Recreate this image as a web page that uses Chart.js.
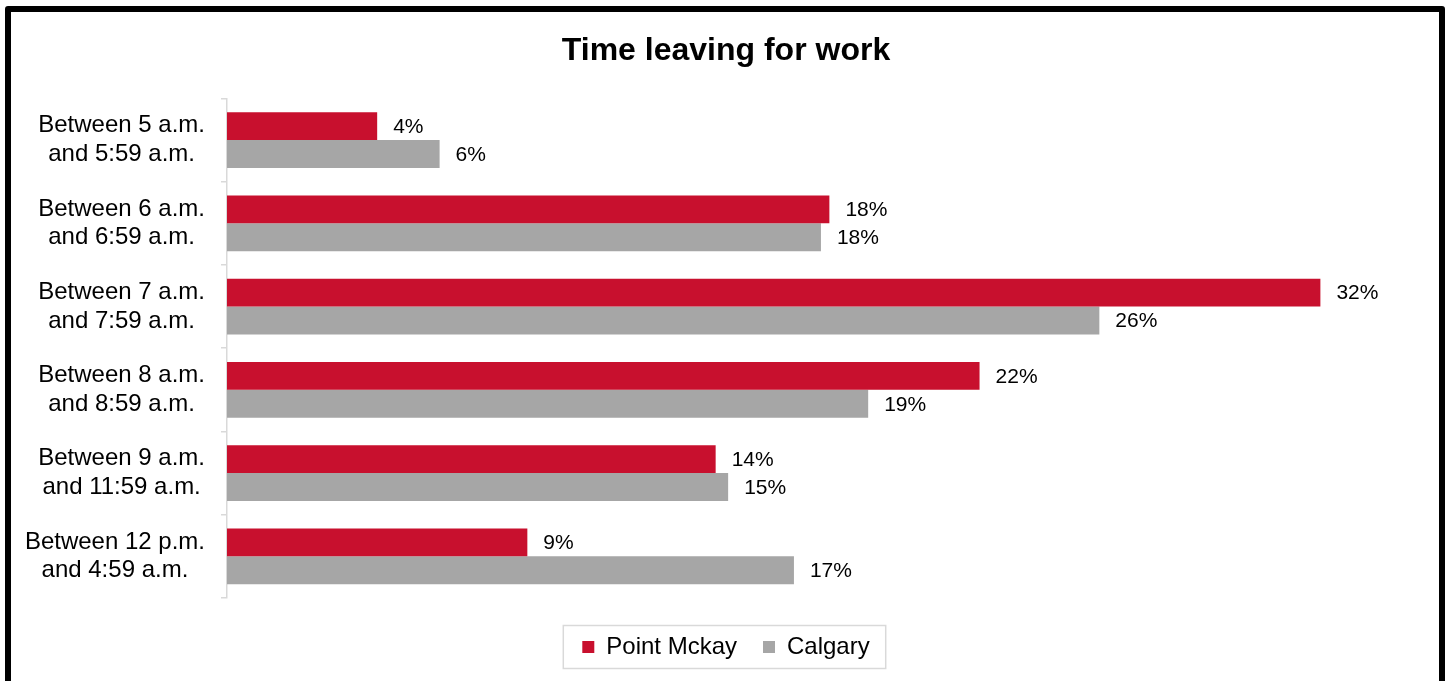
<!DOCTYPE html>
<html>
<head>
<meta charset="utf-8">
<script src="https://cdn.jsdelivr.net/npm/chart.js@4"></script>
<style>
    html, body { margin: 0; padding: 0; background: #fff; overflow: hidden; }
    #wrap { position: absolute; left: 0; top: 0; width: 1452px; height: 681px; }
    #frame {
        position: absolute; left: 5px; top: 6px; width: 1440px; height: 700px;
        box-sizing: border-box; border: 6px solid #000; border-radius: 3px;
        pointer-events: none;
    }
</style>
</head>
<body>
<div id="wrap"><canvas id="workChart"></canvas></div>
<div id="frame"></div>
<script>
// Chart data
const categories = [
    ['Between 5 a.m.', 'and 5:59 a.m.'],
    ['Between 6 a.m.', 'and 6:59 a.m.'],
    ['Between 7 a.m.', 'and 7:59 a.m.'],
    ['Between 8 a.m.', 'and 8:59 a.m.'],
    ['Between 9 a.m.', 'and 11:59 a.m.'],
    ['Between 12 p.m.', 'and 4:59 a.m.']
];
const pointMckay = [4.45, 17.85, 32.4, 22.3, 14.48, 8.9];
const calgary = [6.3, 17.6, 25.85, 19.0, 14.85, 16.8];

const FONT = "'Liberation Sans', Arial, sans-serif";

// Value labels at the end of each bar
const barLabels = {
    id: 'barLabels',
    afterDatasetsDraw(chart) {
        const ctx = chart.ctx;
        ctx.save();
        ctx.font = '21px ' + FONT;
        ctx.fillStyle = '#000';
        ctx.textAlign = 'left';
        ctx.textBaseline = 'middle';
        chart.data.datasets.forEach((ds, i) => {
            chart.getDatasetMeta(i).data.forEach((bar, j) => {
                ctx.fillText(Math.round(ds.data[j]) + '%', bar.x + 16, bar.y + 1);
            });
        });
        ctx.restore();
    }
};

// Right-align each two-line category label block, lines centred inside it
const labelBlocks = {
    id: 'labelBlocks',
    beforeDraw(chart) {
        const s = chart.scales.y;
        if (!s || typeof s.getLabelItems !== 'function') return;
        const ctx = chart.ctx;
        const rightEdge = s.right - 6 - 16;
        ctx.save();
        ctx.font = '24px ' + FONT;
        s.getLabelItems().forEach(item => {
            const lines = Array.isArray(item.label) ? item.label : [item.label];
            const w = Math.max(...lines.map(l => ctx.measureText(l).width));
            item.options.translation[0] = rightEdge - w / 2;
        });
        ctx.restore();
    }
};

// Light grey box round the legend items
const legendBox = {
    id: 'legendBox',
    afterDraw(chart) {
        const boxes = chart.legend.legendHitBoxes;
        if (!boxes || !boxes.length) return;
        const first = boxes[0];
        const last = boxes[boxes.length - 1];
        const cy = first.top + first.height / 2;
        const x0 = first.left - 19;
        const x1 = last.left + last.width + 16;
        const ctx = chart.ctx;
        ctx.save();
        ctx.strokeStyle = '#d9d9d9';
        ctx.lineWidth = 1.5;
        ctx.strokeRect(x0, cy - 21.5, x1 - x0, 43);
        ctx.restore();
    }
};

const ctx = document.getElementById('workChart').getContext('2d');
new Chart(ctx, {
    type: 'bar',
    data: {
        labels: categories,
        datasets: [
            {
                label: 'Point Mckay',
                data: pointMckay,
                backgroundColor: '#c8102e',
                categoryPercentage: 0.67,
                barPercentage: 1.0
            },
            {
                label: 'Calgary',
                data: calgary,
                backgroundColor: '#a6a6a6',
                categoryPercentage: 0.67,
                barPercentage: 1.0
            }
        ]
    },
    options: {
        indexAxis: 'y',
        responsive: true,
        maintainAspectRatio: false,
        animation: false,
        layout: {
            padding: { left: 0, right: 0, top: 0, bottom: 12 }
        },
        plugins: {
            title: {
                display: true,
                text: 'Time leaving for work',
                color: '#000',
                font: { family: FONT, size: 32, weight: 'bold' },
                padding: { top: 32, bottom: 28 }
            },
            legend: {
                position: 'bottom',
                labels: {
                    color: '#000',
                    font: { family: FONT, size: 24 },
                    boxWidth: 12,
                    boxHeight: 12,
                    padding: 26
                }
            },
            tooltip: { enabled: false }
        },
        scales: {
            x: {
                display: true,
                min: 0,
                max: 36.3,
                afterFit(scale) { scale.height = 11; },
                ticks: { display: false },
                grid: { display: false },
                border: { display: false }
            },
            y: {
                afterFit(scale) { scale.width = 227; },
                grid: {
                    display: true,
                    drawOnChartArea: false,
                    tickLength: 6,
                    color: '#d9d9d9',
                    lineWidth: 1.5
                },
                border: { display: true, color: '#d9d9d9', width: 1.5 },
                ticks: {
                    color: '#000',
                    font: { family: FONT, size: 24 },
                    crossAlign: 'center',
                    padding: 16
                }
            }
        }
    },
    plugins: [labelBlocks, barLabels, legendBox]
});
</script>
</body>
</html>
